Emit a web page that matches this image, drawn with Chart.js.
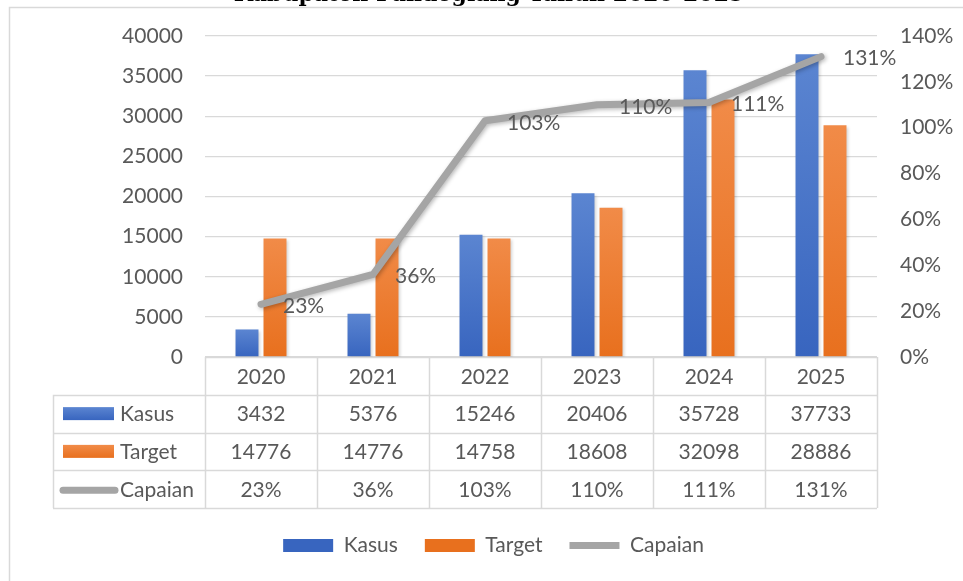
<!DOCTYPE html>
<html>
<head>
<meta charset="utf-8">
<script src="https://cdn.jsdelivr.net/npm/chart.js@4.4.1/dist/chart.umd.min.js"></script>
<style>
  html, body { margin: 0; padding: 0; background: #fff; }
  canvas { display: block; }
</style>
</head>
<body>
<canvas id="myChart" width="963" height="581"></canvas>
<script>
const labels = ['2020', '2021', '2022', '2023', '2024', '2025'];
const kasus = [3432, 5376, 15246, 20406, 35728, 37733];
const target = [14776, 14776, 14758, 18608, 32098, 28886];
const capaian = [23, 36, 103, 110, 111, 131]; // persen

const countMax = 40000;
const countStep = 5000;
const pctMax = 140;
const pctStep = 20;

const title = 'Kabupaten Pandeglang Tahun 2020-2025';

const FONT = 'Lato, "Open Sans", sans-serif';
const TEXT = '#595959';
const GRID = '#D9D9D9';
const BLUE = ['#5B85D1', '#3865BF'];
const ORANGE = ['#F18B48', '#E8701E'];
const GREY = '#A5A5A5';

// vertical gradient per bar, like the office chart
function barFill(colors) {
    return (c) => {
        if (c.type !== 'data') return colors[1];
        const ys = c.chart.scales.y;
        if (!ys) return colors[1];
        const yTop = ys.getPixelForValue(c.raw);
        const yBase = ys.getPixelForValue(0);
        if (!isFinite(yTop) || !isFinite(yBase) || yBase - yTop < 1) return colors[1];
        const g = c.chart.ctx.createLinearGradient(0, yTop, 0, yBase);
        g.addColorStop(0, colors[0]);
        g.addColorStop(1, colors[1]);
        return g;
    };
}

const shadowPlugin = {
    id: 'shadow',
    beforeDatasetDraw(chart, args) {
        const ctx = chart.ctx;
        ctx.save();
        const isLine = args.meta.type === 'line';
        ctx.shadowColor = isLine ? 'rgba(0,0,0,0.28)' : 'rgba(0,0,0,0.18)';
        ctx.shadowBlur = isLine ? 4 : 3;
        ctx.shadowOffsetX = 1.5;
        ctx.shadowOffsetY = 1.5;
    },
    afterDatasetDraw(chart) {
        chart.ctx.restore();
    }
};

const pointLabels = {
    id: 'pointLabels',
    afterDatasetsDraw(chart) {
        const ctx = chart.ctx;
        const meta = chart.getDatasetMeta(2);
        ctx.save();
        ctx.font = '21px ' + FONT;
        ctx.fillStyle = TEXT;
        ctx.textAlign = 'left';
        ctx.textBaseline = 'middle';
        meta.data.forEach((pt, i) => {
            ctx.fillText(capaian[i] + '%', pt.x + 22, pt.y + 2);
        });
        ctx.restore();
    }
};

// frame, cut-off title and the data table under the plot
const tablePlugin = {
    id: 'dataTable',
    beforeDraw(chart) {
        const ctx = chart.ctx;
        ctx.save();
        ctx.strokeStyle = GRID;
        ctx.lineWidth = 1.5;
        ctx.beginPath();
        ctx.moveTo(9.5, chart.height);
        ctx.lineTo(9.5, 7.5);
        ctx.lineTo(chart.width, 7.5);
        ctx.stroke();
        ctx.font = 'bold 22px "DejaVu Serif", serif';
        ctx.fillStyle = '#000';
        ctx.textAlign = 'center';
        ctx.textBaseline = 'alphabetic';
        ctx.fillText(title, 489, 0.5);
        ctx.restore();
    },
    afterDraw(chart) {
        const ctx = chart.ctx;
        const area = chart.chartArea;
        const xs = chart.scales.x;
        const colW = (area.right - area.left) / labels.length;
        const top = xs.top;
        const rowH = (xs.bottom - xs.top) / 4;
        const tableLeft = 53;
        const px = (v) => Math.round(v) + 0.5;

        ctx.save();
        ctx.strokeStyle = GRID;
        ctx.lineWidth = 1.5;
        ctx.beginPath();
        ctx.moveTo(area.left, px(top));
        ctx.lineTo(area.right, px(top));
        for (let r = 1; r <= 4; r++) {
            const y = px(top + r * rowH);
            ctx.moveTo(tableLeft, y);
            ctx.lineTo(area.right, y);
        }
        ctx.moveTo(px(tableLeft), top + rowH);
        ctx.lineTo(px(tableLeft), top + 4 * rowH);
        for (let i = 0; i <= labels.length; i++) {
            const x = px(area.left + i * colW);
            ctx.moveTo(x, top);
            ctx.lineTo(x, top + 4 * rowH);
        }
        ctx.stroke();

        const rows = [
            { name: 'Kasus', values: kasus.map(String), key: 'bar', colors: BLUE },
            { name: 'Target', values: target.map(String), key: 'bar', colors: ORANGE },
            { name: 'Capaian', values: capaian.map(v => v + '%'), key: 'line' }
        ];
        ctx.font = '21px ' + FONT;
        ctx.textBaseline = 'middle';
        rows.forEach((row, r) => {
            const cy = top + (r + 1.5) * rowH;
            if (row.key === 'bar') {
                const g = ctx.createLinearGradient(0, cy - 6.5, 0, cy + 6.5);
                g.addColorStop(0, row.colors[0]);
                g.addColorStop(1, row.colors[1]);
                ctx.fillStyle = g;
                ctx.fillRect(63, cy - 6.5, 51, 13);
            } else {
                ctx.strokeStyle = GREY;
                ctx.lineWidth = 7;
                ctx.lineCap = 'round';
                ctx.beginPath();
                ctx.moveTo(63, cy + 1);
                ctx.lineTo(115, cy + 1);
                ctx.stroke();
            }
            ctx.fillStyle = TEXT;
            ctx.textAlign = 'left';
            ctx.fillText(row.name, 120, cy + 1);
            ctx.textAlign = 'center';
            row.values.forEach((v, i) => {
                ctx.fillText(v, xs.getPixelForValue(i), cy + 1);
            });
        });
        ctx.restore();
    }
};

const data = {
    labels: labels,
    datasets: [
        {
            type: 'bar',
            label: 'Kasus',
            data: kasus,
            backgroundColor: barFill(BLUE),
            borderWidth: 0,
            pointStyle: 'rect',
            yAxisID: 'y',
            order: 1
        },
        {
            type: 'bar',
            label: 'Target',
            data: target,
            backgroundColor: barFill(ORANGE),
            borderWidth: 0,
            pointStyle: 'rect',
            yAxisID: 'y',
            order: 1
        },
        {
            type: 'line',
            label: 'Capaian',
            data: capaian,
            borderColor: GREY,
            backgroundColor: GREY,
            borderWidth: 7,
            borderCapStyle: 'round',
            borderJoinStyle: 'round',
            pointRadius: 0,
            pointStyle: 'line',
            tension: 0,
            yAxisID: 'y1',
            order: 0
        }
    ]
};

const legendColors = [BLUE[1], ORANGE[1], GREY];

const config = {
    type: 'bar',
    data: data,
    options: {
        responsive: false,
        animation: false,
        devicePixelRatio: 1,
        layout: { padding: { top: 36, left: 24, right: 0, bottom: 15 } },
        datasets: {
            bar: { categoryPercentage: 0.5, barPercentage: 0.82 }
        },
        scales: {
            x: {
                grid: { display: false },
                border: { display: false },
                ticks: { color: TEXT, font: { family: FONT, size: 21 }, padding: 0 },
                afterFit(s) { s.height = 151; }
            },
            y: {
                position: 'left',
                min: 0,
                max: countMax,
                ticks: {
                    stepSize: countStep,
                    padding: 22,
                    color: TEXT,
                    font: { family: FONT, size: 21 },
                    callback: (v) => String(v)
                },
                grid: { color: GRID, lineWidth: 1.3, drawTicks: false },
                border: { display: false },
                afterFit(s) { s.width = 181; }
            },
            y1: {
                position: 'right',
                min: 0,
                max: pctMax,
                ticks: {
                    stepSize: pctStep,
                    padding: 23,
                    color: TEXT,
                    font: { family: FONT, size: 21 },
                    callback: (v) => v + '%'
                },
                grid: { display: false, drawTicks: false },
                border: { display: false },
                afterFit(s) { s.width = 86; }
            }
        },
        plugins: {
            legend: {
                position: 'bottom',
                labels: {
                    usePointStyle: true,
                    pointStyleWidth: 50,
                    boxHeight: 13,
                    padding: 27,
                    color: TEXT,
                    font: { family: FONT, size: 21 },
                    sort: (a, b) => a.datasetIndex - b.datasetIndex,
                    generateLabels(chart) {
                        const items = Chart.defaults.plugins.legend.labels.generateLabels(chart);
                        items.forEach((it) => {
                            it.fillStyle = legendColors[it.datasetIndex];
                            it.strokeStyle = legendColors[it.datasetIndex];
                        });
                        return items;
                    }
                }
            },
            tooltip: { enabled: false }
        }
    },
    plugins: [shadowPlugin, pointLabels, tablePlugin]
};

const myChart = new Chart(document.getElementById('myChart'), config);
</script>
</body>
</html>
